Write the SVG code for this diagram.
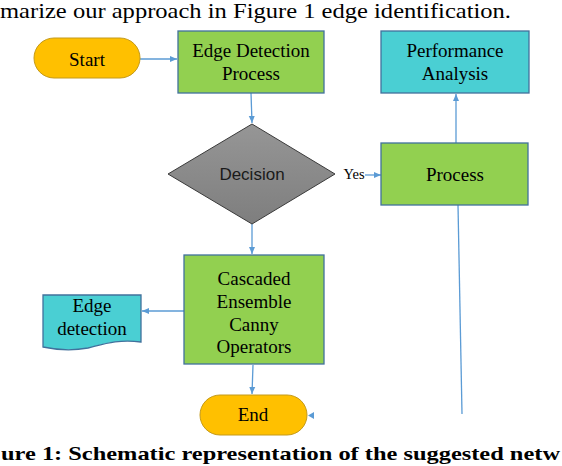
<svg xmlns="http://www.w3.org/2000/svg" width="562" height="466" viewBox="0 0 562 466">
<style>
.cap{font-family:"Liberation Serif","Times New Roman",serif;font-size:21px;fill:#000}
.capb{font-family:"Liberation Serif","Times New Roman",serif;font-size:19px;font-weight:bold;fill:#000}
.t{font-family:"Liberation Serif","Times New Roman",serif;font-size:19px;fill:#000;text-anchor:middle}
.s{font-family:"Liberation Sans",Arial,sans-serif;font-size:17px;fill:#1a1a1a;text-anchor:middle}
.term{fill:#FFC000;stroke:#C49A1A;stroke-width:1}
.proc{fill:#92D050;stroke:#41719C;stroke-width:1.3}
.teal{fill:#4ACFD3;stroke:#41719C;stroke-width:1.3}
.ln{stroke:#5B9BD5;stroke-width:1.3;fill:none}
</style>
<defs>
<marker id="ah" markerWidth="8" markerHeight="8" refX="7" refY="4" orient="auto" markerUnits="userSpaceOnUse">
<path d="M0,1 L7,4 L0,7 Z" fill="#5B9BD5"/>
</marker>
<linearGradient id="gray" x1="0" y1="0" x2="0" y2="1">
<stop offset="0" stop-color="#969696"/>
<stop offset="1" stop-color="#7E7E7E"/>
</linearGradient>
</defs>

<text class="cap" x="0" y="18" textLength="511" lengthAdjust="spacingAndGlyphs">marize our approach in Figure 1 edge identification.</text>

<g id="connectors">
<line class="ln" x1="140" y1="59" x2="177" y2="59" marker-end="url(#ah)"/>
<line class="ln" x1="251" y1="93" x2="252" y2="123" marker-end="url(#ah)"/>
<line class="ln" x1="365" y1="175" x2="381" y2="175" marker-end="url(#ah)"/>
<line class="ln" x1="456" y1="143" x2="456" y2="94" marker-end="url(#ah)"/>
<line class="ln" x1="458" y1="205" x2="462" y2="414" stroke-width="1"/>
<line class="ln" x1="252" y1="224" x2="252" y2="254" marker-end="url(#ah)"/>
<line class="ln" x1="184" y1="311" x2="142" y2="311" marker-end="url(#ah)"/>
<line class="ln" x1="253" y1="365" x2="252" y2="394" marker-end="url(#ah)"/>
<path d="M308,415.5 L314,412 L314,419 Z" fill="#5B9BD5"/>
<text x="354" y="179" font-family="Liberation Serif,serif" font-size="14.5" text-anchor="middle">Yes</text>
</g>

<g id="start">
<rect class="term" x="34" y="38" width="106" height="40" rx="20"/>
<text class="t" x="87" y="66">Start</text>
</g>

<g id="edge-detection-process">
<rect class="proc" x="178" y="31" width="146" height="62"/>
<text class="t" x="251" y="57">Edge Detection</text>
<text class="t" x="251" y="80">Process</text>
</g>

<g id="performance-analysis">
<rect class="teal" x="381" y="31" width="148" height="62"/>
<text class="t" x="455" y="57">Performance</text>
<text class="t" x="455" y="80">Analysis</text>
</g>

<g id="decision">
<polygon points="252,124 335,174 252,224 168,174" fill="url(#gray)" stroke="#3A3A3A" stroke-width="1"/>
<text class="s" x="252" y="180">Decision</text>
</g>

<g id="process">
<rect class="proc" x="381" y="143" width="147" height="62"/>
<text class="t" x="455" y="181">Process</text>
</g>

<g id="cascaded">
<rect class="proc" x="184" y="255" width="140" height="109"/>
<text class="t" x="254" y="285">Cascaded</text>
<text class="t" x="254" y="308">Ensemble</text>
<text class="t" x="254" y="331">Canny</text>
<text class="t" x="254" y="353">Operators</text>
</g>

<g id="edge-detection">
<path class="teal" d="M43,295 H141 V342 C118,339 104,344 88,348 C72,351 57,350 43,347 Z"/>
<text class="t" x="92" y="312">Edge</text>
<text class="t" x="92" y="335">detection</text>
</g>

<g id="end">
<rect class="term" x="200" y="395" width="107" height="40" rx="20"/>
<text class="t" x="253" y="421">End</text>
</g>

<text class="capb" x="1" y="460" textLength="559" lengthAdjust="spacingAndGlyphs">ure 1: Schematic representation of the suggested netw</text>
</svg>
